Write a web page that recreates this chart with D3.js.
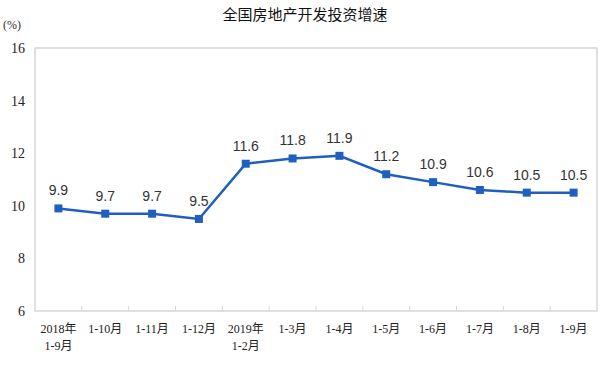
<!DOCTYPE html>
<html><head><meta charset="utf-8">
<script src="https://cdn.jsdelivr.net/npm/d3@7"></script>
<style>body{margin:0;background:#fff}</style>
</head><body>
<svg id="c" width="611" height="367"></svg>
<script>
const categories = [["2018年","1-9月"],["1-10月"],["1-11月"],["1-12月"],["2019年","1-2月"],["1-3月"],["1-4月"],["1-5月"],["1-6月"],["1-7月"],["1-8月"],["1-9月"]];
const values = [9.9, 9.7, 9.7, 9.5, 11.6, 11.8, 11.9, 11.2, 10.9, 10.6, 10.5, 10.5];
const yTicks = [6, 8, 10, 12, 14, 16];
const title = "全国房地产开发投资增速";
const unit = "(%)";

const svg = d3.select("#c");
const m = {l:35, r:597, t:48, b:311};
const x = d3.scaleBand().domain(d3.range(categories.length)).range([m.l, m.r]);
const y = d3.scaleLinear().domain([6,16]).range([m.b, m.t]);

svg.append("rect").attr("x", m.l).attr("y", m.t).attr("width", m.r-m.l).attr("height", m.b-m.t)
  .attr("fill","none").attr("stroke","#d6d6d6").attr("stroke-width",1.5);

// bottom tick marks at band boundaries
const xb = d3.axisBottom(x).tickSize(0).tickFormat("");
svg.selectAll(".tk").data(d3.range(1, categories.length)).enter().append("line")
  .attr("x1", d=>x(d)).attr("x2", d=>x(d)).attr("y1", m.b).attr("y2", m.b-5)
  .attr("stroke","#d6d6d6").attr("stroke-width",1);

// y axis labels
const ya = svg.append("g").attr("transform",`translate(${m.l},0)`)
  .call(d3.axisLeft(y).tickValues(yTicks).tickSize(0).tickPadding(10));
ya.select(".domain").remove();
ya.selectAll("text").attr("font-family","'Liberation Serif', serif").attr("font-size",14).attr("fill","#222");

// x labels
const xl = svg.append("g");
categories.forEach((lines,i)=>{
  const t = xl.append("text").attr("x", x(i)+x.bandwidth()/2).attr("y", 333)
    .attr("text-anchor","middle").attr("font-family","'Liberation Serif','Noto Sans CJK SC',serif")
    .attr("font-size",12).attr("fill","#222");
  lines.forEach((s,j)=>t.append("tspan").attr("x", x(i)+x.bandwidth()/2).attr("dy", j?17:0).text(s));
});

// line
const cx = i => x(i)+x.bandwidth()/2;
svg.append("path").datum(values).attr("fill","none").attr("stroke","#1f5fbf").attr("stroke-width",2.5)
  .attr("d", d3.line().x((d,i)=>cx(i)).y(d=>y(d)));
svg.selectAll(".pt").data(values).enter().append("rect")
  .attr("x",(d,i)=>cx(i)-4).attr("y",d=>y(d)-4).attr("width",8).attr("height",8).attr("fill","#1f5fbf");
svg.selectAll(".lb").data(values).enter().append("text")
  .attr("x",(d,i)=>cx(i)).attr("y",d=>y(d)-13).attr("text-anchor","middle")
  .attr("font-family","'Liberation Sans', Arial, sans-serif").attr("font-size",14).attr("fill","#333")
  .text(d=>d.toFixed(1));

svg.append("text").attr("x",305).attr("y",20).attr("text-anchor","middle")
  .attr("font-family","'Noto Sans CJK SC',sans-serif").attr("font-size",15).attr("fill","#111").text(title);
svg.append("text").attr("x",3).attr("y",29).attr("font-family","'Liberation Serif','Noto Sans CJK SC',serif")
  .attr("font-size",12).attr("fill","#333").text(unit);
</script>
</body></html>
